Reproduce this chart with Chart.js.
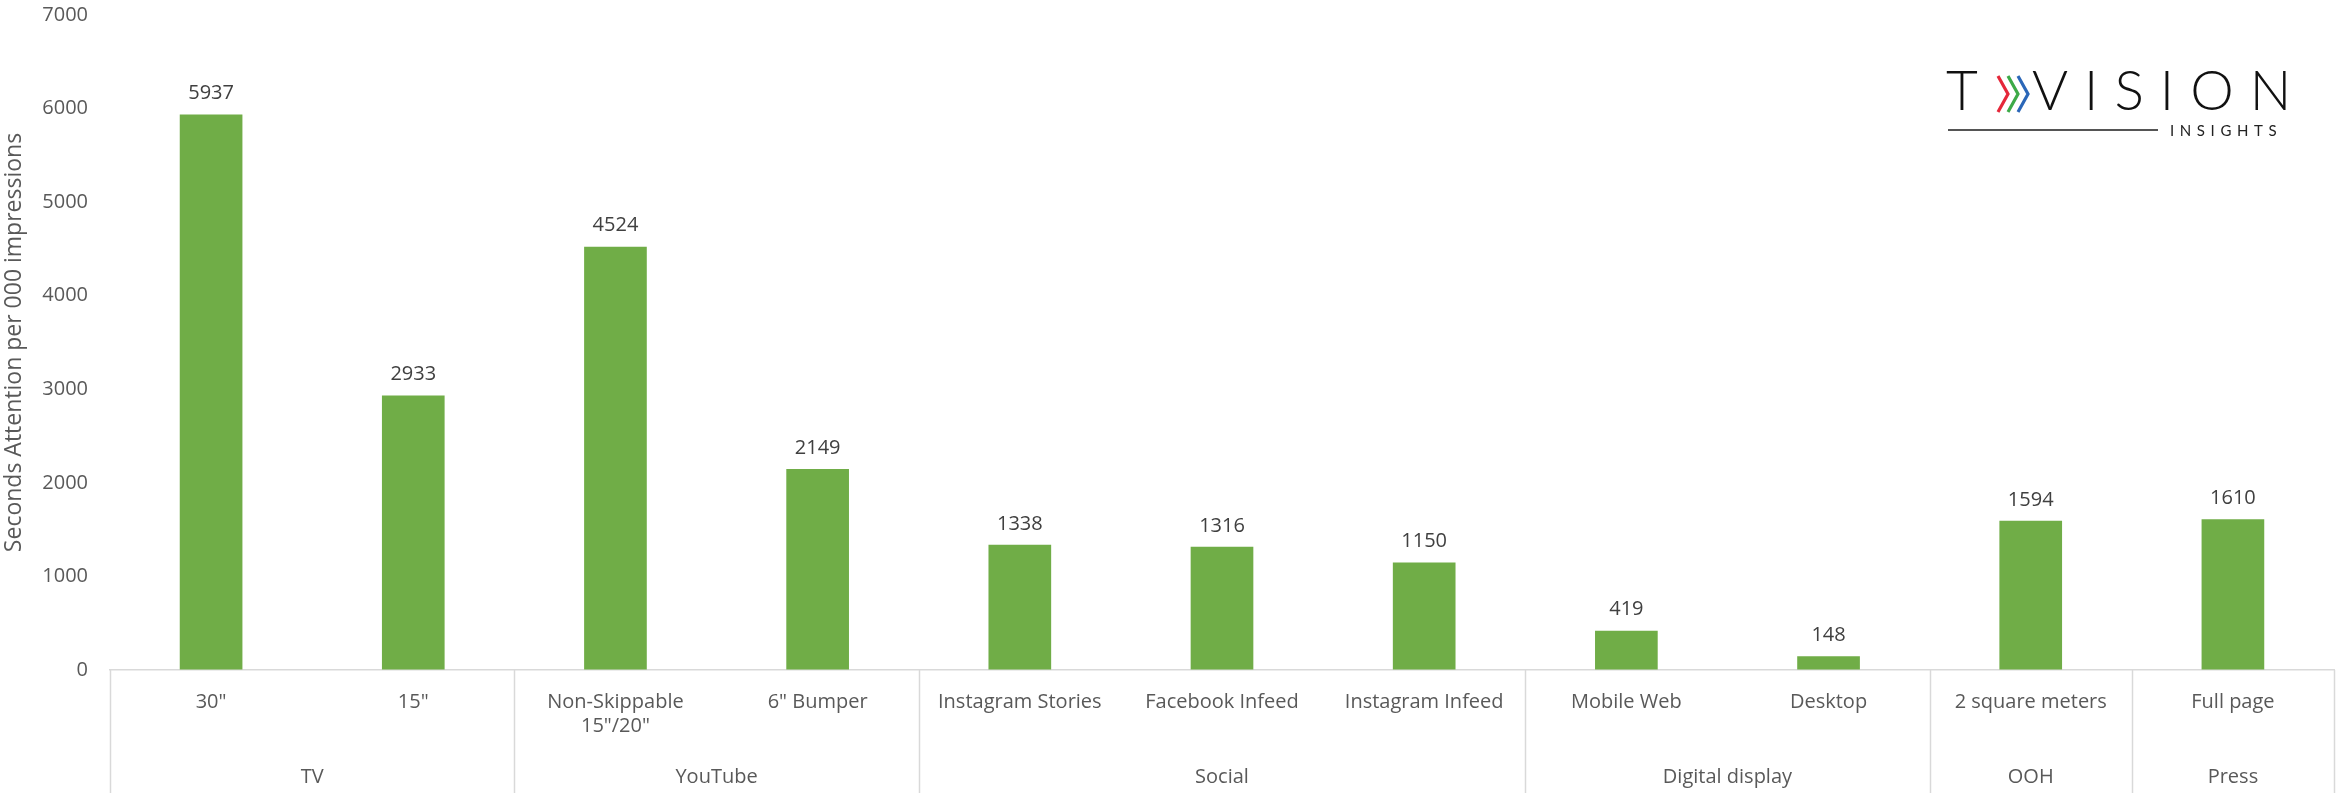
<!DOCTYPE html>
<html>
<head>
<meta charset="utf-8">
<script src="https://cdn.jsdelivr.net/npm/chart.js@4.4.1/dist/chart.umd.min.js"></script>
<style>
  html, body { margin: 0; padding: 0; background: #fff; }
  #wrap { position: relative; width: 2338px; height: 793px; }
  #chart { position: absolute; left: 0; top: 0; }
  .logo { position: absolute; left: 1946px; top: 58px; width: 345px; height: 90px; font-family: Lato, 'Noto Sans', sans-serif; color: #111; }
  .logo .big { position: absolute; top: 0; font-size: 55px; font-weight: 300; line-height: 62px; }
  .logo .rule { position: absolute; left: 2px; top: 71px; width: 210px; height: 1.5px; background: #555; }
  .logo .small { position: absolute; left: 224px; top: 62px; font-size: 15px; letter-spacing: 5.6px; line-height: 20px; color: #222; }
  .logo svg { position: absolute; left: 50px; top: 16px; }
</style>
</head>
<body>
<div id="wrap">
  <canvas id="chart" width="2338" height="793"></canvas>
  <div class="logo">
    <span class="big" style="left:0">T</span>
    <svg width="36" height="40" viewBox="0 0 36 40">
      <polyline points="2,2 12,20 2,38" fill="none" stroke="#e5283a" stroke-width="3.2"/>
      <polyline points="12,2 22,20 12,38" fill="none" stroke="#3daa48" stroke-width="3.2"/>
      <polyline points="22,2 32,20 22,38" fill="none" stroke="#2b67b8" stroke-width="3.2"/>
    </svg>
    <span class="big" style="left:86px; letter-spacing:16px">VISION</span>
    <div class="rule"></div>
    <span class="small">INSIGHTS</span>
  </div>
</div>
<script>
const categories = ['30"', '15"', ['Non-Skippable', '15"/20"'], '6" Bumper', 'Instagram Stories', 'Facebook Infeed', 'Instagram Infeed', 'Mobile Web', 'Desktop', '2 square meters', 'Full page'];
const values = [5937, 2933, 4524, 2149, 1338, 1316, 1150, 419, 148, 1594, 1610];
const groupNames = ['TV', 'YouTube', 'Social', 'Digital display', 'OOH', 'Press'];
const groupSizes = [2, 2, 3, 2, 1, 1];
const yMax = 7000;
const yStep = 1000;

const FONT = "'Open Sans', sans-serif";

// value labels above bars + group row under the axis
const extrasPlugin = {
  id: 'extras',
  afterDatasetsDraw(chart) {
    const ctx = chart.ctx;
    const meta = chart.getDatasetMeta(0);
    ctx.save();
    ctx.font = `20px ${FONT}`;
    ctx.fillStyle = '#404040';
    ctx.textAlign = 'center';
    ctx.textBaseline = 'bottom';
    meta.data.forEach((bar, i) => {
      ctx.fillText(String(values[i]), bar.x, bar.y - 11);
    });
    ctx.restore();
  },
  afterDraw(chart) {
    const ctx = chart.ctx;
    const x = chart.scales.x;
    const area = chart.chartArea;
    const half = (x.getPixelForValue(1) - x.getPixelForValue(0)) / 2;
    ctx.save();
    ctx.strokeStyle = '#d9d9d9';
    ctx.lineWidth = 1.5;
    ctx.font = `20px ${FONT}`;
    ctx.fillStyle = '#595959';
    ctx.textAlign = 'center';
    ctx.textBaseline = 'middle';
    let start = 0;
    const edges = [area.left];
    groupSizes.forEach((size, g) => {
      const left = x.getPixelForValue(start) - half;
      const right = x.getPixelForValue(start + size - 1) + half;
      edges.push(right);
      ctx.fillText(groupNames[g], (left + right) / 2, 777);
      start += size;
    });
    edges.forEach((ex) => {
      ctx.beginPath();
      ctx.moveTo(Math.round(ex) + 0.5, area.bottom);
      ctx.lineTo(Math.round(ex) + 0.5, chart.height);
      ctx.stroke();
    });
    ctx.restore();
  }
};

new Chart(document.getElementById('chart'), {
  type: 'bar',
  data: {
    labels: categories,
    datasets: [{
      data: values,
      backgroundColor: '#70ad47',
      borderWidth: 0,
      barPercentage: 0.31,
      categoryPercentage: 1
    }]
  },
  options: {
    responsive: false,
    animation: false,
    layout: { padding: { top: 0, right: 4, left: 0, bottom: 0 } },
    plugins: { legend: { display: false }, tooltip: { enabled: false } },
    scales: {
      x: {
        afterFit(scale) { scale.height = 123; },
        grid: { display: false, drawTicks: false },
        border: { display: true, color: '#d9d9d9', width: 1.5 },
        ticks: { color: '#595959', font: { family: FONT, size: 20 }, padding: 20, maxRotation: 0, autoSkip: false }
      },
      y: {
        min: 0,
        max: yMax,
        afterFit(scale) { scale.width = 110; },
        grid: { display: true, drawOnChartArea: false, drawTicks: true, tickLength: 19, color: 'rgba(0,0,0,0)' },
        border: { display: false },
        ticks: {
          stepSize: yStep,
          color: '#595959',
          font: { family: FONT, size: 20 },
          padding: 3,
          callback: (v) => String(v)
        },
        title: {
          display: true,
          text: 'Seconds Attention per 000 impressions',
          color: '#595959',
          font: { family: FONT, size: 23 },
          padding: { top: 1, bottom: 0 }
        }
      }
    }
  },
  plugins: [extrasPlugin]
});
</script>
</body>
</html>
